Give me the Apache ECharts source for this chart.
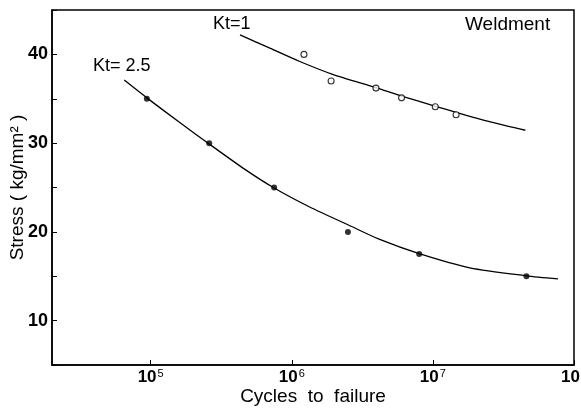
<!DOCTYPE html>
<html>
<head>
<meta charset="utf-8">
<script src="https://cdn.jsdelivr.net/npm/echarts@6/dist/echarts.min.js"></script>
<style>
  html, body { margin: 0; padding: 0; background: #fff; }
  #chart { width: 581px; height: 410px; }
</style>
</head>
<body>
<div id="chart"></div>
<script>
// Kt=2.5 test points (filled) and fitted curve
const kt25N = [9.4e4, 2.6e5, 7.5e5, 2.5e6, 8.0e6, 4.6e7];
const kt25S = [35, 30, 25, 20, 17.5, 15];
const kt25CurveN = [6.5e4, 9.4e4, 1.6e5, 2.6e5, 4.6e5, 7.4e5, 1.34e6, 2.5e6, 4.2e6, 8.0e6, 1.83e7, 4.6e7, 7.7e7];
const kt25CurveS = [37.1, 35.1, 32.35, 29.9, 27.1, 25.0, 22.8, 20.8, 19.15, 17.55, 15.95, 15.05, 14.7];

// Kt=1 test points (open) and fitted curve
const kt1N = [1.22e6, 1.9e6, 3.95e6, 6.0e6, 1.04e7, 1.46e7];
const kt1S = [40, 37, 36.2, 35.1, 34.1, 33.2];
const kt1CurveN = [4.3e5, 7.0e5, 1.14e6, 1.95e6, 3.95e6, 6.0e6, 1.045e7, 1.48e7, 2.69e7, 4.52e7];
const kt1CurveS = [42.2, 40.7, 39.2, 37.75, 36.25, 35.3, 34.15, 33.45, 32.3, 31.45];

const yLabels = [10, 20, 30, 40];

const pair = (xs, ys) => xs.map((x, i) => [x, ys[i]]);
const FONT = '"Liberation Sans", Arial, sans-serif';

const chart = echarts.init(document.getElementById('chart'));

const option = {
  backgroundColor: '#fff',
  animation: false,
  grid: {
    left: 52,
    right: 7,
    top: 10,
    bottom: 45,
    outerBoundsMode: 'none',
    containLabel: false,
    show: true,
    borderColor: '#000',
    borderWidth: 1.5,
  },
  xAxis: {
    type: 'log',
    logBase: 10,
    min: 2e4,
    max: 1e8,
    name: 'Cycles  to  failure',
    nameLocation: 'middle',
    nameGap: 22,
    nameMoveOverlap: false,
    nameTextStyle: { color: '#000', fontSize: 19, fontFamily: FONT },
    axisLine: { lineStyle: { color: '#000', width: 1.5 } },
    axisTick: { inside: true, length: 5, lineStyle: { color: '#000' } },
    splitLine: { show: false },
    axisLabel: {
      margin: 3,
      showMinLabel: false,
      showMaxLabel: true,
      hideOverlap: false,
      formatter(v) {
        const e = Math.log10(v);
        if (Math.abs(e - Math.round(e)) > 1e-6) return '';
        return '{b|10}{s|' + Math.round(e) + '}';
      },
      rich: {
        b: { fontSize: 17, fontWeight: 'bold', color: '#000', fontFamily: FONT, lineHeight: 18 },
        s: { fontSize: 11, color: '#000', fontFamily: FONT, verticalAlign: 'top', padding: [0, 0, 6, 1] },
      },
    },
  },
  yAxis: {
    type: 'value',
    min: 5,
    max: 45,
    interval: 5,
    name: 'Stress ( kg/mm² )',
    nameLocation: 'middle',
    nameRotate: 90,
    nameGap: 25,
    nameMoveOverlap: false,
    nameTextStyle: { color: '#000', fontSize: 19, fontFamily: FONT },
    axisLine: { show: true, lineStyle: { color: '#000', width: 1.5 } },
    axisTick: { inside: true, length: 5, lineStyle: { color: '#000' } },
    splitLine: { show: false },
    axisLabel: {
      margin: 4,
      color: '#000',
      fontSize: 18,
      fontWeight: 'bold',
      fontFamily: FONT,
      formatter(v) {
        return yLabels.indexOf(v) > -1 ? String(v) : '';
      },
    },
  },
  graphic: [
    { type: 'text', left: 213, top: 15, style: { text: 'Kt=1', fontSize: 18, fontFamily: FONT, fill: '#000' } },
    { type: 'text', left: 93, top: 57, style: { text: 'Kt= 2.5', fontSize: 18, fontFamily: FONT, fill: '#000' } },
    { type: 'text', left: 465, top: 15, style: { text: 'Weldment', fontSize: 19, fontFamily: FONT, fill: '#000' } },
  ],
  series: [
    {
      type: 'line',
      data: pair(kt25CurveN, kt25CurveS),
      smooth: 0.25,
      showSymbol: false,
      lineStyle: { color: '#000', width: 1.3 },
      z: 1,
    },
    {
      type: 'line',
      data: pair(kt1CurveN, kt1CurveS),
      smooth: 0.25,
      showSymbol: false,
      lineStyle: { color: '#000', width: 1.3 },
      z: 1,
    },
    {
      type: 'scatter',
      data: pair(kt25N, kt25S),
      symbol: 'circle',
      symbolSize: 6,
      itemStyle: { color: '#000' },
      z: 3,
    },
    {
      type: 'scatter',
      data: pair(kt1N, kt1S),
      symbol: 'circle',
      symbolSize: 6,
      itemStyle: { color: '#fff', borderColor: '#000', borderWidth: 1.1 },
      z: 3,
    },
  ],
};

chart.setOption(option);
</script>
</body>
</html>
